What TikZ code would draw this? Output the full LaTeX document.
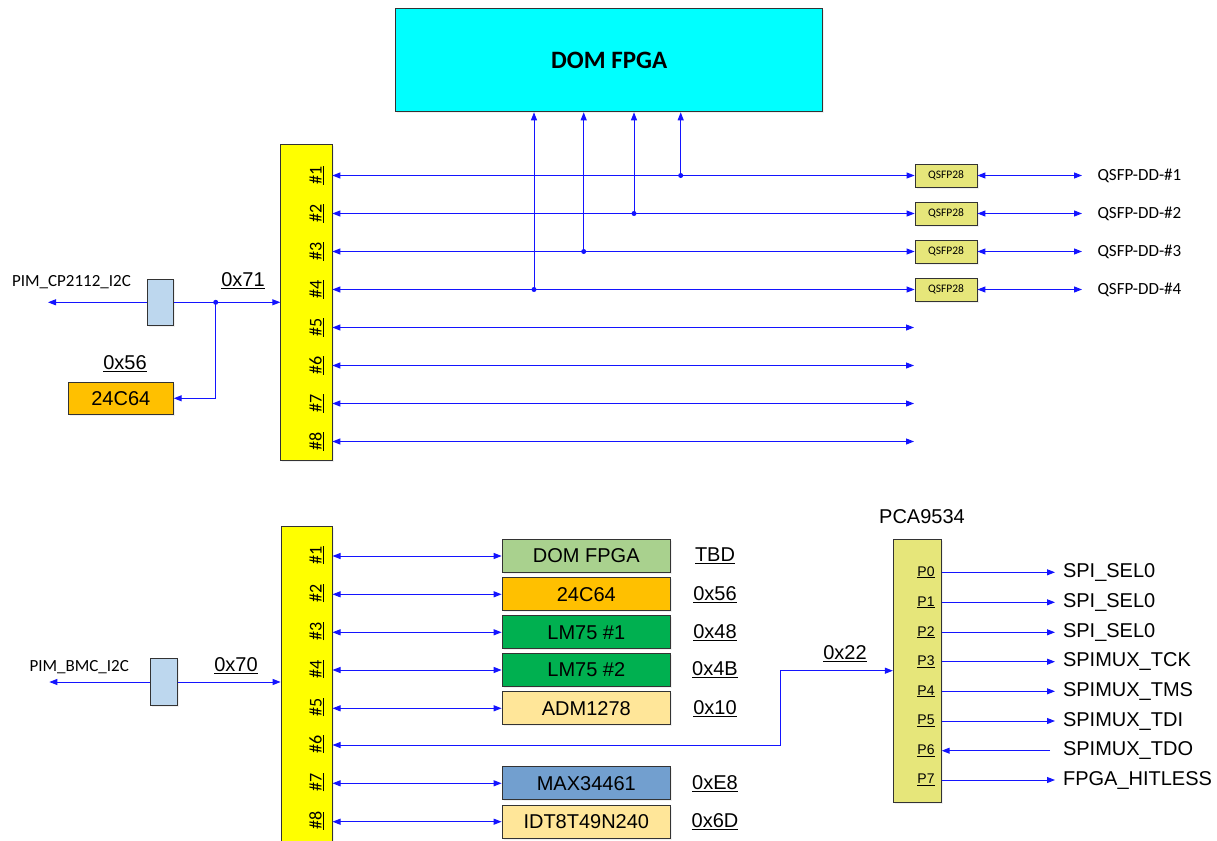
\documentclass[tikz,border=0pt]{standalone}
\usepackage{fontspec}
\setmainfont{Liberation Sans}
\newfontfamily\calib{Carlito}
\usetikzlibrary{arrows.meta,shadows}
\definecolor{fpgacyan}{RGB}{0,255,255}
\definecolor{muxyellow}{RGB}{255,255,0}
\definecolor{qsfp}{RGB}{230,230,122}
\definecolor{lblue}{RGB}{189,215,238}
\definecolor{orangeee}{RGB}{255,192,0}
\definecolor{lgreen}{RGB}{169,209,142}
\definecolor{mgreen}{RGB}{0,176,80}
\definecolor{lyellow}{RGB}{255,230,153}
\definecolor{maxblue}{RGB}{114,159,207}
\definecolor{busblue}{RGB}{20,20,255}
\newcommand\myfs[1]{\fontsize{#1}{#1}\selectfont}
\begin{document}
\begin{tikzpicture}[x=1pt,y=-1pt,
  >={Triangle[length=8pt,width=6pt]},
  box/.style={draw=black!80, line width=0.8pt, inner sep=0pt,
    drop shadow={opacity=0.12,shadow xshift=1.5pt,shadow yshift=-1.5pt}},
  bus/.style={busblue, line width=1pt},
  dot/.style={circle, fill=busblue, inner sep=0pt, minimum size=5pt},
  arial/.style={font=\myfs{20}},
  cal/.style={font=\calib\myfs{17}},
  muxlbl/.style={rotate=90, font=\calib\myfs{18}}]
\useasboundingbox (0,0) rectangle (1217,840);

% ---------- top part ----------
\node[box, fill=fpgacyan, minimum width=427pt, minimum height=103pt,
  font=\calib\bfseries\myfs{25}] (fpga) at (609.2,60.4) {DOM FPGA};

\node[box, fill=muxyellow, minimum width=51.5pt, minimum height=315.7pt] (muxa) at (306.5,302.2) {};

\foreach \i/\y in {1/175.5,2/213.5,3/251.5,4/289.5,5/327.5,6/365.5,7/403.5,8/441.5}{
  \coordinate (a\i) at (332.3,\y);
  \node[muxlbl] at (316.5,\y) {\underline{\#\i}};
}
\foreach \i/\y in {1/175.5,2/213.5,3/251.5,4/289.5}{
  \node[box, fill=qsfp, minimum width=62pt, minimum height=23pt, font=\calib\myfs{11.5}] (q\i) at (946,\y) {QSFP28};
  \draw[bus,<->] (a\i) -- (q\i.west);
  \coordinate (qd\i) at (1082,\y);
  \draw[bus,<->] (q\i.east) -- (qd\i);
  \node[cal, anchor=west] at (1094,\y) {QSFP-DD-\#\i};
}
\foreach \i/\y in {5/327.5,6/365.5,7/403.5,8/441.5}{
  \coordinate (e\i) at (914,\y);
  \draw[bus,<->] (a\i) -- (e\i);
}
\foreach \i/\x/\y in {1/680.7/175.5,2/634/213.5,3/583.7/251.5,4/534/289.5}{
  \node[dot] (j\i) at (\x,\y) {};
  \draw[bus,->] (j\i.center) -- (j\i.center |- fpga.south);
}

% left upper
\node[box, fill=lblue, minimum width=26.5pt, minimum height=46.7pt] (cp) at (160.3,302.3) {};
\coordinate (cpend) at (48,302.3);
\draw[bus,->] (cp.west) -- (cpend);
\draw[bus,->] (cp.east) -- (cp.east -| muxa.west);
\node[cal, anchor=west] at (8.5,282.5) {PIM\_CP2112\_I2C};
\node[arial] at (243,281) {\underline{0x71}};
\node[box, fill=orangeee, minimum width=105pt, minimum height=32pt, arial] (eep) at (120.8,398.3) {24C64};
\node[arial] at (125,364) {\underline{0x56}};
\node[dot] (jd) at (215.7,302.3) {};
\draw[bus,->] (jd.center) |- (eep.east);

% ---------- bottom part ----------
\node[box, fill=muxyellow, minimum width=51.5pt, minimum height=330pt, anchor=north] (muxb) at (306.8,525.7) {};
\foreach \i/\y in {1/556,2/594.3,3/632.3,4/670,5/708.3,6/745,7/783.3,8/821.7}{
  \coordinate (b\i) at (332.5,\y);
  \node[muxlbl] at (316.5,\y-1) {\underline{\#\i}};
}
\foreach \i/\y/\c/\t/\a in {1/556/lgreen/DOM FPGA/TBD, 2/594.3/orangeee/24C64/0x56,
   3/632.3/mgreen/LM75 \#1/0x48, 4/670/mgreen/LM75 \#2/0x4B, 5/708.3/lyellow/ADM1278/0x10,
   7/783.3/maxblue/MAX34461/0xE8, 8/821.7/lyellow/IDT8T49N240/0x6D}{
  \node[box, fill=\c, minimum width=168.5pt, minimum height=33pt, arial] (d\i) at (586.3,\y) {\t};
  \draw[bus,<->] (b\i) -- (d\i.west);
  \node[arial] at (715,\y) {\underline{\a}};
}

\node[box, fill=lblue, minimum width=27pt, minimum height=47pt] (bmc) at (163.8,682) {};
\coordinate (bmcend) at (49.3,682);
\draw[bus,->] (bmc.west) -- (bmcend);
\draw[bus,->] (bmc.east) -- (bmc.east -| muxb.west);
\node[cal, anchor=west] at (26,666.7) {PIM\_BMC\_I2C};
\node[arial] at (236,665.5) {\underline{0x70}};

% PCA9534
\node[box, fill=qsfp, minimum width=48.4pt, minimum height=262.7pt] (pca) at (917.5,670.7) {};
\node[arial] at (922,517) {PCA9534};
\coordinate (bend) at (780,745);
\draw[bus,<->] (b6) -- (bend) |- (pca.west);
\node[arial] at (845,654) {\underline{0x22}};

\foreach \i/\y/\s in {0/572.3/SPI\_SEL0, 1/602.3/SPI\_SEL0, 2/632.3/SPI\_SEL0,
   3/661.7/SPIMUX\_TCK, 4/691.3/SPIMUX\_TMS, 5/721/SPIMUX\_TDI, 6/750.7/SPIMUX\_TDO,
   7/780/FPGA\_HITLESS}{
  \coordinate (p\i) at (941.7,\y);
  \node[font=\myfs{14}] at (926,\y) {\underline{P\i}};
  \node[arial, anchor=west] at (1059.5,\y) {\s};
}
\foreach \i/\y in {0/572.3,1/602.3,2/632.3,3/661.7,4/691.3,5/721,7/780}{
  \coordinate (s\i) at (1055,\y);
  \draw[bus,->] (p\i) -- (s\i);
}
\coordinate (s6) at (1050,750.7);
\draw[bus,->] (s6) -- (p6);
\end{tikzpicture}
\end{document}
